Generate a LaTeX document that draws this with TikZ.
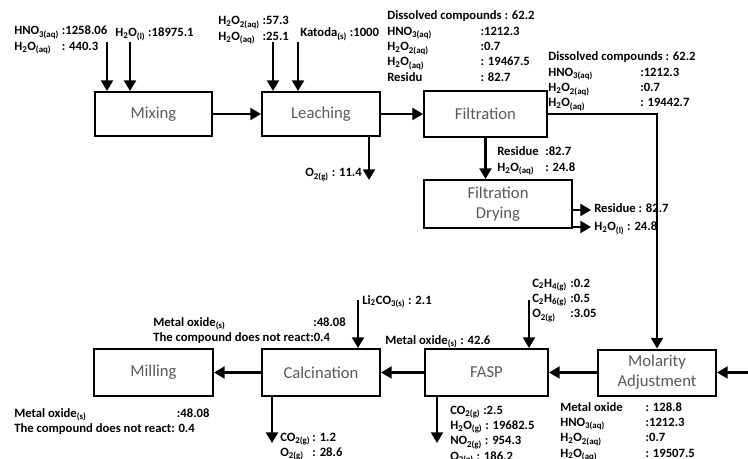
\documentclass[tikz,border=0pt]{standalone}
\usepackage{fontspec}
\setmainfont{Carlito}
\definecolor{unitgray}{HTML}{595959}
\usetikzlibrary{arrows.meta, positioning}
\newcommand{\lo}[1]{\textsubscript{#1}}
\newcommand{\streamtab}[2]{\begin{tabular}[t]{@{}p{#1}@{}l@{}}#2\end{tabular}}

\begin{document}
\begin{tikzpicture}[x=0.75pt, y=-0.75pt,
    unit/.style={draw, line width=1.5pt, text=unitgray, align=center, inner sep=0pt,
        font=\fontsize{12.5}{15}\selectfont},
    flow/.style={-{Triangle[length=8pt, width=9pt]}, line width=1.6pt},
    lbl/.style={anchor=base west, inner sep=0pt, font=\fontsize{9.5}{11.5}\selectfont\bfseries}]
            \useasboundingbox (0,0) rectangle (748,459);
            % process units
            \node[unit, minimum width=87.75pt, minimum height=33pt] (mix) at (153.5,114) {Mixing};
            \node[unit, minimum width=88.5pt, minimum height=33pt] (leach) at (321,114) {Leaching};
            \node[unit, minimum width=92.25pt, minimum height=34.5pt] (filt) at (485.5,114) {Filtration};
            \node[unit, minimum width=111pt, minimum height=36pt] (dry) at (498,204) {Filtration\\Drying};
            \node[unit, minimum width=89.25pt, minimum height=35.25pt] (mill) at (153.5,372.5) {Milling};
            \node[unit, minimum width=88.5pt, minimum height=35.25pt] (calc) at (321,372.5) {Calcination};
            \node[unit, minimum width=92.25pt, minimum height=35.25pt] (fasp) at (486.5,372.5) {FASP};
            \node[unit, minimum width=88.5pt, minimum height=34.5pt] (mol) at (657,372.5) {Molarity\\Adjustment};
            % free ends of the streams
            \coordinate (hno) at (107,42);
            \coordinate (wat) at (130,42);
            \coordinate (perox) at (273,42);
            \coordinate (katoda) at (298,42);
            \coordinate (leachout) at (369,180);
            \coordinate (dryres) at (591,210);
            \coordinate (drywat) at (591,227);
            \coordinate (feed) at (750,372.5);
            \coordinate (lico) at (358,300);
            \coordinate (fuel) at (529,300);
            \coordinate (faspout) at (437,443);
            \coordinate (calcout) at (272,443);
            % main line
            \draw[flow] (mix) -- (leach);
            \draw[flow] (leach) -- (filt);
            \draw[flow] (filt.east) -| (mol);
            \draw[flow] (filt) -- (filt |- dry.north);
            \draw[flow] (feed) -- (mol);
            \draw[flow] (mol) -- (fasp);
            \draw[flow] (fasp) -- (calc);
            \draw[flow] (calc) -- (mill);
            % feeds and outlets
            \draw[flow] (hno) -- (hno |- mix.north);
            \draw[flow] (wat) -- (wat |- mix.north);
            \draw[flow] (perox) -- (perox |- leach.north);
            \draw[flow] (katoda) -- (katoda |- leach.north);
            \draw[flow] (leachout |- leach.south) -- (leachout);
            \draw[flow] (dryres -| dry.east) -- (dryres);
            \draw[flow] (drywat -| dry.east) -- (drywat);
            \draw[flow] (lico) -- (lico |- calc.north);
            \draw[flow] (fuel) -- (fuel |- fasp.north);
            \draw[flow] (faspout |- fasp.south) -- (faspout);
            \draw[flow] (calcout |- calc.south) -- (calcout);
            % stream data
            \node[lbl] (hnoin) at (14,35) {\begin{tabular}[t]{@{}l@{\ }l@{}}HNO\lo{3(aq)} & :1258.06\\ H\lo{2}O\lo{(aq)} & : 440.3\end{tabular}};
            \node[lbl] (watin) at (115,37) {H\lo{2}O\lo{(l)} :18975.1};
            \node[lbl] (peroxin) at (218,25) {\begin{tabular}[t]{@{}l@{\ }l@{}}H\lo{2}O\lo{2(aq)} & :57.3\\ H\lo{2}O\lo{(aq)} & :25.1\end{tabular}};
            \node[lbl] (katodain) at (300,37) {Katoda\lo{(s)} :1000};
            \node[lbl] (leachdata) at (387,20) {\streamtab{70pt}{\multicolumn{2}{@{}l@{}}{Dissolved compounds : 62.2}\\
                HNO\lo{3(aq)} & :1212.3\\ H\lo{2}O\lo{2(aq)} & :0.7\\ H\lo{2}O\lo{(aq)} & : 19467.5\\ Residu & : 82.7}};
            \node[lbl] (filtdata) at (548,61) {\streamtab{69pt}{\multicolumn{2}{@{}l@{}}{Dissolved compounds : 62.2}\\
                HNO\lo{3(aq)} & :1212.3\\ H\lo{2}O\lo{2(aq)} & :0.7\\ H\lo{2}O\lo{(aq)} & : 19442.7}};
            \node[lbl] (cakedata) at (497,156) {\streamtab{36pt}{Residue & :82.7\\ H\lo{2}O\lo{(aq)} & : 24.8}};
            \node[lbl, anchor=base east] (leachgas) at (362,177) {O\lo{2(g)} : 11.4};
            \node[lbl] (dryresdata) at (594,213) {Residue : 82.7};
            \node[lbl] (drywatdata) at (594,231) {H\lo{2}O\lo{(l)} : 24.8};
            \node[lbl] (calcdata) at (153,326) {\streamtab{120pt}{Metal oxide\lo{(s)} & :48.08\\
                \multicolumn{2}{@{}l@{}}{The compound does not react:0.4}}};
            \node[lbl] (licodata) at (362,304) {Li\lo{2}CO\lo{3(s)} : 2.1};
            \node[lbl] (faspdata) at (385,344) {Metal oxide\lo{(s)} : 42.6};
            \node[lbl] (fueldata) at (532,287) {\streamtab{28.5pt}{C\lo{2}H\lo{4(g)} & :0.2\\ C\lo{2}H\lo{6(g)} & :0.5\\ O\lo{2(g)} & :3.05}};
            \node[lbl] (faspgas) at (450,414) {\begin{tabular}[t]{@{}l@{}}CO\lo{2(g)} :2.5\\ H\lo{2}O\lo{(g)} : 19682.5\\ NO\lo{2(g)} : 954.3\\ O\lo{2(g)} : 186.2\end{tabular}};
            \node[lbl] (calcgas) at (280,441) {\begin{tabular}[t]{@{}l@{\,}l@{}}CO\lo{2(g)} & : 1.2\\ O\lo{2(g)} & : 28.6\end{tabular}};
            \node[lbl] (milldata) at (14,417) {\streamtab{122pt}{Metal oxide\lo{(s)} & :48.08\\
                \multicolumn{2}{@{}l@{}}{The compound does not react: 0.4}}};
            \node[lbl] (moldata) at (560,411) {\streamtab{64pt}{Metal oxide & : 128.8\\ HNO\lo{3(aq)} & :1212.3\\
                H\lo{2}O\lo{2(aq)} & :0.7\\ H\lo{2}O\lo{(aq)} & : 19507.5}};
         \end{tikzpicture}
\end{document}
